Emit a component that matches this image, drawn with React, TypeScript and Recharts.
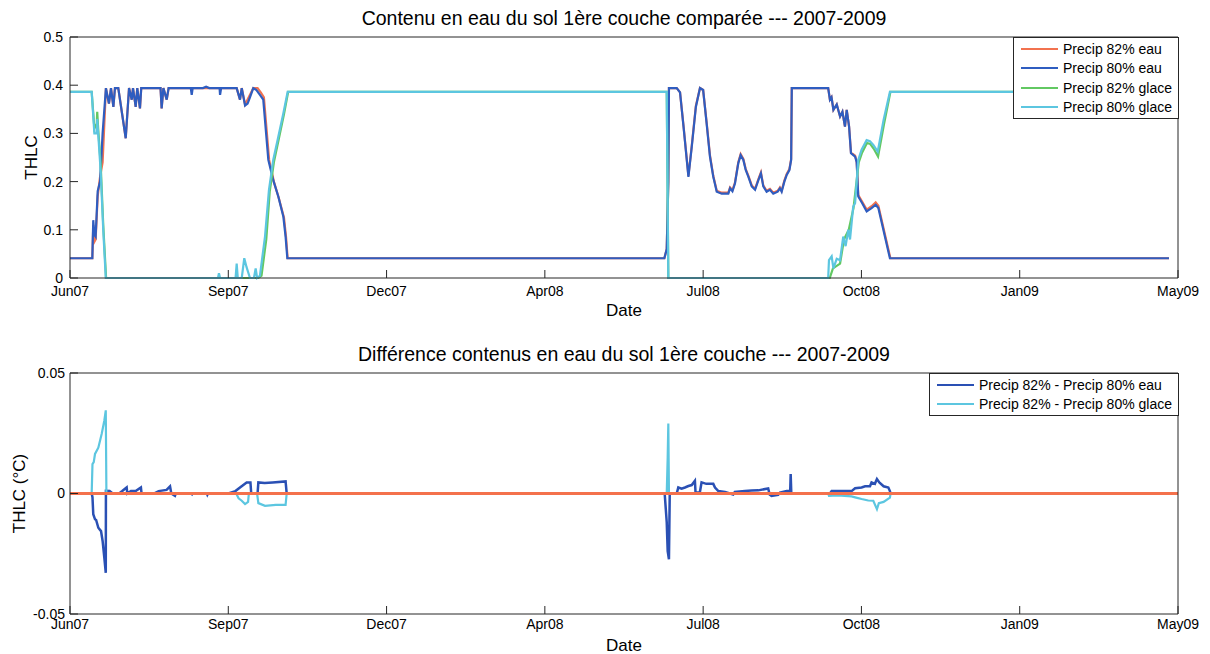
import { Legend, Line, LineChart, XAxis, YAxis } from "recharts";

// x values are days counted from the first tick (Jun07); ticks are evenly spaced every 100 days
const DATE_TICKS = [0, 100, 200, 300, 400, 500, 600, 700];
const DATE_LABELS = ["Jun07", "Sep07", "Dec07", "Apr08", "Jul08", "Oct08", "Jan09", "May09"];
const THLC_TICKS = [0, 0.1, 0.2, 0.3, 0.4, 0.5];
const DIFF_TICKS = [-0.05, 0, 0.05];

const TOP_NAMES = ["Precip 82% eau", "Precip 80% eau", "Precip 82% glace", "Precip 80% glace"];
const DIFF_NAMES = ["Precip 82% - Precip 80% eau", "Precip 82% - Precip 80% glace"];

// [day, THLC]
const eau80: number[][] = [
  [0, 0.041], [14.1, 0.041], [14.7, 0.12], [15.4, 0.09], [16.2, 0.086], [17.5, 0.18], [19, 0.2],
  [20.6, 0.3], [22.7, 0.394], [24.6, 0.362], [25.9, 0.394], [27.4, 0.355], [28.4, 0.394],
  [30.5, 0.394], [35.2, 0.29], [37.3, 0.394], [39, 0.37], [39.8, 0.394], [41.5, 0.355],
  [42.5, 0.394], [44.2, 0.352], [45, 0.394], [57.2, 0.394], [57.9, 0.352], [59, 0.394],
  [61.1, 0.37], [62.3, 0.394], [76.3, 0.394], [76.9, 0.38], [77.5, 0.394], [84, 0.394],
  [86, 0.397], [88, 0.394], [94.5, 0.394], [94.8, 0.38], [95.5, 0.394], [105.3, 0.394],
  [107.4, 0.37], [108.5, 0.394], [110.6, 0.358], [112.2, 0.362], [113.7, 0.375], [115.8, 0.394],
  [117.8, 0.39], [120, 0.38], [122.1, 0.37], [125.3, 0.245], [128.4, 0.203], [131.6, 0.169],
  [134.8, 0.127], [136.2, 0.086], [137.3, 0.041],
  [375.5, 0.041], [377, 0.06], [378, 0.2], [378.4, 0.394], [383.3, 0.394], [385.4, 0.385],
  [387.6, 0.314], [390.7, 0.21], [392.8, 0.272], [395.4, 0.355], [398, 0.394], [400, 0.39],
  [402.2, 0.321], [404.3, 0.252], [406.4, 0.21], [408.6, 0.179], [411.7, 0.175], [415.9, 0.175],
  [417, 0.186], [418.5, 0.18], [420.1, 0.196], [422.2, 0.238], [423.7, 0.255], [425.4, 0.245],
  [426.9, 0.224], [428.6, 0.21], [430.7, 0.19], [432.8, 0.183], [434.9, 0.203], [436.5, 0.217],
  [438, 0.19], [440.1, 0.179], [442.2, 0.183], [444.3, 0.175], [447.1, 0.179], [448.5, 0.186],
  [449.6, 0.179], [451.3, 0.2], [452.8, 0.214], [454.5, 0.224], [455.6, 0.245], [456, 0.394],
  [479, 0.394], [480.1, 0.37], [481.1, 0.375], [482.3, 0.349], [484.4, 0.36], [486.5, 0.335],
  [488, 0.345], [489.6, 0.314], [490.7, 0.349], [492.2, 0.314], [493.4, 0.259], [496, 0.252],
  [497, 0.24], [498, 0.169], [500.5, 0.155], [503.3, 0.138], [506.4, 0.145], [509, 0.152],
  [510.7, 0.145], [518, 0.041], [694.3, 0.041],
];

const eau82: number[][] = [
  [0, 0.041], [14.1, 0.041], [14.7, 0.11], [15.4, 0.075], [16.2, 0.08], [17.5, 0.17], [19, 0.21],
  [20.6, 0.24], [22.7, 0.394], [24.6, 0.362], [25.9, 0.394], [27.4, 0.355], [28.4, 0.394],
  [30.5, 0.394], [35.2, 0.29], [37.3, 0.394], [39, 0.37], [39.8, 0.394], [41.5, 0.355],
  [42.5, 0.394], [44.2, 0.352], [45, 0.394], [57.2, 0.394], [57.9, 0.352], [59, 0.394],
  [61.1, 0.37], [62.3, 0.394], [105.3, 0.394], [107.4, 0.37], [108.5, 0.394], [110.6, 0.36],
  [113.7, 0.38], [115.8, 0.394], [118.5, 0.394], [120.5, 0.385], [122.5, 0.375], [125.8, 0.245],
  [128.8, 0.2], [132, 0.165], [135.2, 0.125], [136.5, 0.085], [137.5, 0.041],
  [375.5, 0.041], [377, 0.06], [378, 0.2], [378.4, 0.394], [383.3, 0.394], [385.4, 0.385],
  [387.6, 0.316], [390.7, 0.212], [392.8, 0.274], [395.4, 0.357], [398, 0.394], [400, 0.39],
  [402.2, 0.323], [404.3, 0.255], [406.4, 0.212], [408.6, 0.181], [411.7, 0.177], [415.9, 0.177],
  [417, 0.188], [418.5, 0.182], [420.1, 0.198], [422.2, 0.24], [423.7, 0.257], [425.4, 0.247],
  [426.9, 0.226], [428.6, 0.212], [430.7, 0.192], [432.8, 0.185], [434.9, 0.205], [436.5, 0.219],
  [438, 0.192], [440.1, 0.181], [442.2, 0.185], [444.3, 0.177], [447.1, 0.181], [448.5, 0.188],
  [449.6, 0.181], [451.3, 0.202], [452.8, 0.216], [454.5, 0.226], [455.6, 0.247], [456, 0.394],
  [479, 0.394], [480.1, 0.37], [481.1, 0.375], [482.3, 0.349], [484.4, 0.36], [486.5, 0.335],
  [488, 0.345], [489.6, 0.314], [490.7, 0.349], [492.2, 0.314], [493.4, 0.26], [496, 0.254],
  [497, 0.242], [498, 0.172], [500.5, 0.158], [503.3, 0.142], [506.4, 0.149], [509, 0.157],
  [510.7, 0.15], [518.3, 0.041], [694.3, 0.041],
];

const glace80: number[][] = [
  [0, 0.386], [13.7, 0.386], [15.4, 0.3], [16.9, 0.3], [17.2, 0.33], [17.8, 0.3], [19.4, 0.22],
  [21, 0.1], [22.6, 0], [93.5, 0], [94.1, 0.01], [94.8, 0], [104.6, 0], [105.3, 0.03], [106, 0],
  [108.5, 0], [110.1, 0.041], [111.5, 0.023], [113.7, 0], [116.2, 0], [117.3, 0.02], [118.2, 0],
  [120, 0.005], [123.2, 0.086], [125.7, 0.183], [128.4, 0.245], [131.6, 0.293], [134.8, 0.342],
  [137.5, 0.386], [377, 0.386], [378, 0], [479, 0], [479.5, 0.037], [481.2, 0.045], [482.3, 0.02],
  [484.4, 0.04], [486.5, 0.037], [488.5, 0.086], [490, 0.066], [491.7, 0.1], [492.8, 0.08],
  [494.8, 0.148], [496, 0.155], [498, 0.245], [500.1, 0.266], [503.3, 0.286], [505.4, 0.284],
  [507.5, 0.276], [510.3, 0.262], [514, 0.328], [518, 0.386], [694.3, 0.386],
];

const glace82: number[][] = [
  [0, 0.386], [13.7, 0.386], [15.4, 0.31], [16.9, 0.32], [17.2, 0.345], [17.8, 0.31], [19.4, 0.235],
  [21, 0.11], [22.8, 0], [119, 0], [121, 0.005], [124, 0.08], [126.2, 0.18], [128.8, 0.24],
  [132, 0.29], [135.2, 0.34], [137.8, 0.386], [377, 0.386], [378, 0], [480, 0], [482, 0.02],
  [486.5, 0.03], [489, 0.08], [492, 0.1], [495, 0.145], [498.3, 0.24], [500.4, 0.26],
  [503.5, 0.28], [505.6, 0.278], [507.8, 0.268], [510.5, 0.252], [514.3, 0.32], [518.3, 0.386],
  [694.3, 0.386],
];

// [day, difference]
const diffEau: number[][] = [
  [0, 0], [13.7, 0], [14.2, -0.0015], [14.7, -0.0086], [15.8, -0.0107], [16.5, -0.011],
  [17.9, -0.0142], [19.6, -0.0156], [20.6, -0.0197], [21.7, -0.0267], [22.6, -0.0329],
  [22.7, 0.0011], [25, 0.001], [27, 0], [31, 0], [33, 0.001], [35.8, 0.0025], [36.2, 0],
  [38.5, 0.001], [41.5, 0.001], [44.8, 0.0025], [45.2, 0], [53, 0], [56, 0.001], [61, 0.0015],
  [63.2, 0.003], [64, 0], [66.3, -0.001], [66.8, 0], [76.9, 0], [77.2, -0.0003], [77.6, 0],
  [86.5, 0], [86.8, -0.0005], [87.2, 0], [100, 0], [104.5, 0.001], [107.4, 0.0025],
  [111.6, 0.0046], [114, 0.0046], [114.5, 0], [118.5, 0], [119, 0.0046], [123, 0.0044],
  [128, 0.0046], [136.2, 0.005], [136.9, 0],
  [375.7, 0], [377, -0.012], [377.6, -0.0239], [378.4, -0.0273], [378.9, 0], [383.3, 0],
  [384.3, 0.0025], [386.4, 0.002], [388.5, 0.0025], [390.7, 0.0031], [392.8, 0.0035],
  [394.8, 0.0053], [395.2, 0.0004], [397.9, 0.0004], [399, 0.0046], [402, 0.004], [406.4, 0.004],
  [407.5, 0.0025], [409.6, 0.001], [413.8, 0.0006], [419, -0.0004], [420, 0.0006], [426.4, 0.001],
  [430.6, 0.0012], [434.8, 0.0013], [441.1, 0.0021], [442, -0.0004], [443.2, -0.001],
  [447.4, -0.0006], [448.5, 0.0004], [452.8, 0.001], [455, 0.001], [455.3, 0.0081], [455.7, 0],
  [480.1, 0], [481.2, 0.001], [487.5, 0.001], [493.8, 0.001], [496, 0.0022], [500.1, 0.0025],
  [502.3, 0.003], [505.4, 0.003], [506.4, 0.0046], [508.5, 0.004], [509.8, 0.006], [511.3, 0.0046],
  [514, 0.003], [517, 0.0025], [518, 0.001], [518.4, 0], [700, 0],
];

const diffGlace: number[][] = [
  [0, 0], [13.7, 0], [14.2, 0.0122], [15, 0.013], [15.8, 0.0164], [17.9, 0.019], [20, 0.0247],
  [21.7, 0.0303], [22.6, 0.0345], [23, 0], [105, 0], [106.5, -0.002], [108.5, -0.003],
  [110.6, -0.0044], [112.5, -0.0035], [113, 0], [118.2, 0], [119, -0.004], [123.2, -0.0051],
  [130, -0.0047], [136.2, -0.0047], [136.9, 0], [377, 0], [377.6, 0.015], [378, 0.029],
  [378.4, 0], [479, 0], [479.5, -0.001], [485, -0.0008], [493.8, -0.0012], [496, -0.0016],
  [500.1, -0.0023], [504.3, -0.0029], [507.5, -0.003], [509.8, -0.0065], [511, -0.004],
  [514, -0.0035], [518, -0.0017], [518.4, 0], [700, 0],
];

const zeroLine: number[][] = [[0, 0], [700, 0]];

const COLORS = {
  eau82: "#f2724f",
  eau80: "#2f5dc0",
  glace82: "#62c862",
  glace80: "#5cc6e0",
  diffEau: "#2a50b4",
  diffGlace: "#5cc6e0",
  zero: "#f4714c",
};

const AXIS = "#262626";
const FONT = '"Liberation Sans", Arial, Helvetica, sans-serif';
const TICK_STYLE = { fill: "#000", fontSize: 14 };

function toRows(points: number[][]) {
  return points.map(([d, v]) => ({ d, v }));
}

function fmtDate(value: number) {
  const i = DATE_TICKS.indexOf(value);
  return i >= 0 ? DATE_LABELS[i] : "";
}

type LegendEntry = { value?: string; color?: string };

function BoxLegend({ payload, order }: { payload?: ReadonlyArray<LegendEntry>; order: string[] }) {
  if (!payload?.length) {
    return null;
  }
  const entries = order
    .map((name) => payload.find((p) => p.value === name))
    .filter((p): p is LegendEntry => Boolean(p));

  return (
    <div
      style={{
        border: `1px solid ${AXIS}`,
        background: "#fff",
        padding: "1px 6px 1px 7px",
        fontSize: 14,
        color: "#000",
        fontFamily: FONT,
        whiteSpace: "nowrap",
      }}
    >
      {entries.map((p) => (
        <div key={p.value} style={{ display: "flex", alignItems: "center", height: 19.5 }}>
          <span style={{ width: 37, height: 0, borderTop: `2px solid ${p.color}`, marginRight: 5 }} />
          <span>{p.value}</span>
        </div>
      ))}
    </div>
  );
}

const titleStyle = {
  position: "absolute" as const,
  left: 70,
  width: 1108,
  textAlign: "center" as const,
  fontSize: 19.5,
  lineHeight: "22px",
  color: "#000",
};

export default function App() {
  return (
    <div
      style={{
        position: "absolute",
        left: 0,
        top: 0,
        width: 1210,
        height: 654,
        background: "#fff",
        fontFamily: FONT,
      }}
    >
      <div style={{ position: "absolute", left: 0, top: 0, width: 1210, height: 326 }}>
        <div style={{ ...titleStyle, top: 7 }}>Contenu en eau du sol 1ère couche comparée --- 2007-2009</div>
        <LineChart width={1210} height={326} margin={{ top: 36, right: 31, bottom: 0, left: 0 }}>
          <XAxis
            xAxisId="b"
            dataKey="d"
            type="number"
            domain={[0, 700]}
            ticks={DATE_TICKS}
            interval={0}
            tickFormatter={fmtDate}
            tickSize={-8}
            tickMargin={16}
            height={48}
            stroke={AXIS}
            tick={TICK_STYLE}
            allowDataOverflow
            label={{ value: "Date", position: "insideBottom", offset: 10, fill: "#000", fontSize: 17 }}
          />
          <XAxis
            xAxisId="t"
            orientation="top"
            type="number"
            domain={[0, 700]}
            ticks={DATE_TICKS}
            interval={0}
            tick={false}
            tickSize={-8}
            height={1}
            stroke={AXIS}
          />
          <YAxis
            yAxisId="l"
            type="number"
            domain={[0, 0.5]}
            ticks={THLC_TICKS}
            interval={0}
            tickFormatter={(v: number) => String(v)}
            tickSize={-8}
            tickMargin={15}
            width={70}
            stroke={AXIS}
            tick={TICK_STYLE}
            label={{
              value: "THLC",
              angle: -90,
              position: "insideLeft",
              offset: 31,
              fill: "#000",
              fontSize: 17,
              style: { textAnchor: "middle" },
            }}
          />
          <YAxis
            yAxisId="r"
            orientation="right"
            type="number"
            domain={[0, 0.5]}
            ticks={THLC_TICKS}
            interval={0}
            tick={false}
            tickSize={-8}
            width={1}
            stroke={AXIS}
          />
          <Legend
            layout="horizontal"
            verticalAlign="middle"
            align="center"
            wrapperStyle={{ top: 37, left: 1013, width: "auto", height: "auto" }}
            content={(props) => <BoxLegend payload={props.payload as LegendEntry[]} order={TOP_NAMES} />}
          />
          <Line xAxisId="b" yAxisId="l" data={toRows(eau82)} dataKey="v" name={TOP_NAMES[0]}
            stroke={COLORS.eau82} strokeWidth={2.2} dot={false} isAnimationActive={false} />
          <Line xAxisId="b" yAxisId="l" data={toRows(eau80)} dataKey="v" name={TOP_NAMES[1]}
            stroke={COLORS.eau80} strokeWidth={2.2} dot={false} isAnimationActive={false} />
          <Line xAxisId="b" yAxisId="l" data={toRows(glace82)} dataKey="v" name={TOP_NAMES[2]}
            stroke={COLORS.glace82} strokeWidth={2.2} dot={false} isAnimationActive={false} />
          <Line xAxisId="b" yAxisId="l" data={toRows(glace80)} dataKey="v" name={TOP_NAMES[3]}
            stroke={COLORS.glace80} strokeWidth={2.2} dot={false} isAnimationActive={false} />
        </LineChart>
      </div>

      <div style={{ position: "absolute", left: 0, top: 326, width: 1210, height: 328 }}>
        <div style={{ ...titleStyle, top: 17 }}>Différence contenus en eau du sol 1ère couche --- 2007-2009</div>
        <LineChart width={1210} height={328} margin={{ top: 46, right: 31, bottom: 0, left: 0 }}>
          <XAxis
            xAxisId="b"
            dataKey="d"
            type="number"
            domain={[0, 700]}
            ticks={DATE_TICKS}
            interval={0}
            tickFormatter={fmtDate}
            tickSize={-8}
            tickMargin={13}
            height={40}
            stroke={AXIS}
            tick={TICK_STYLE}
            allowDataOverflow
            label={{ value: "Date", position: "insideBottom", offset: 3, fill: "#000", fontSize: 17 }}
          />
          <XAxis
            xAxisId="t"
            orientation="top"
            type="number"
            domain={[0, 700]}
            ticks={DATE_TICKS}
            interval={0}
            tick={false}
            tickSize={-8}
            height={1}
            stroke={AXIS}
          />
          <YAxis
            yAxisId="l"
            type="number"
            domain={[-0.05, 0.05]}
            ticks={DIFF_TICKS}
            interval={0}
            tickFormatter={(v: number) => String(v)}
            tickSize={-8}
            tickMargin={13}
            width={70}
            stroke={AXIS}
            tick={TICK_STYLE}
            allowDataOverflow
            label={{
              value: "THLC (°C)",
              angle: -90,
              position: "insideLeft",
              offset: 19,
              fill: "#000",
              fontSize: 17,
              style: { textAnchor: "middle" },
            }}
          />
          <YAxis
            yAxisId="r"
            orientation="right"
            type="number"
            domain={[-0.05, 0.05]}
            ticks={DIFF_TICKS}
            interval={0}
            tick={false}
            tickSize={-8}
            width={1}
            stroke={AXIS}
          />
          <Legend
            layout="horizontal"
            verticalAlign="middle"
            align="center"
            wrapperStyle={{ top: 47, left: 929, width: "auto", height: "auto" }}
            content={(props) => <BoxLegend payload={props.payload as LegendEntry[]} order={DIFF_NAMES} />}
          />
          <Line xAxisId="b" yAxisId="l" data={toRows(diffEau)} dataKey="v" name={DIFF_NAMES[0]}
            stroke={COLORS.diffEau} strokeWidth={2.5} dot={false} isAnimationActive={false} />
          <Line xAxisId="b" yAxisId="l" data={toRows(diffGlace)} dataKey="v" name={DIFF_NAMES[1]}
            stroke={COLORS.diffGlace} strokeWidth={2.2} dot={false} isAnimationActive={false} />
          <Line xAxisId="b" yAxisId="l" data={toRows(zeroLine)} dataKey="v" name="zero"
            legendType="none" stroke={COLORS.zero} strokeWidth={3} dot={false} isAnimationActive={false} />
        </LineChart>
      </div>
    </div>
  );
}
